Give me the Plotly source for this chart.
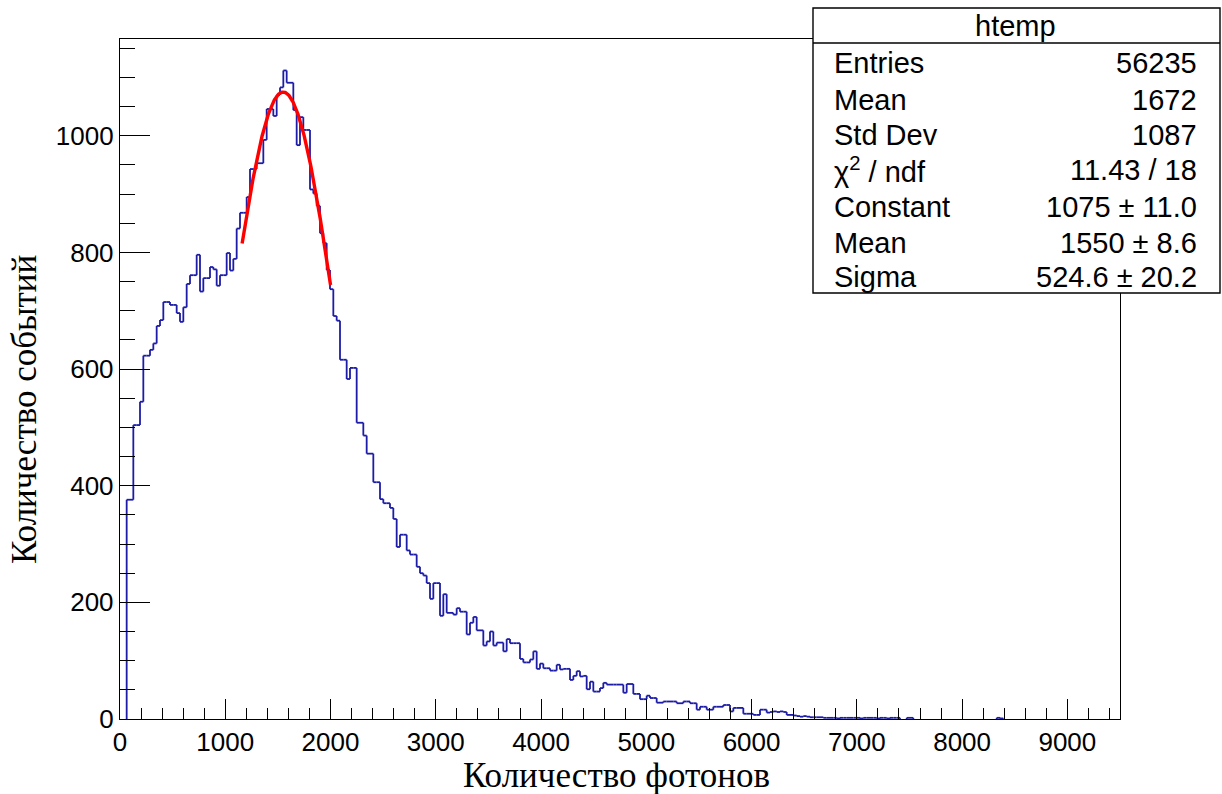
import numpy as np
import plotly.graph_objects as go

# ---------------- data ----------------
x_min, x_max = 0.0, 9500.0
n_bins = 300
counts = [
    0, 0, 376, 376, 504, 504, 544, 623, 623, 633,
    644, 674, 684, 715, 715, 710, 710, 696, 681, 706,
    746, 761, 761, 796, 733, 756, 756, 775, 771, 743,
    761, 761, 799, 769, 789, 841, 868, 868, 895, 943,
    943, 953, 953, 993, 1046, 1046, 1034, 1070, 1083, 1112,
    1091, 1091, 1044, 984, 1032, 1010, 1010, 908, 901, 880,
    833, 816, 770, 737, 691, 683, 616, 616, 583, 602,
    602, 508, 508, 486, 455, 455, 406, 406, 377, 370,
    370, 362, 343, 295, 316, 316, 289, 282, 282, 261,
    250, 246, 233, 206, 233, 233, 177, 214, 182, 182,
    179, 190, 184, 184, 145, 165, 175, 152, 152, 126,
    133, 150, 126, 131, 131, 116, 137, 130, 130, 130,
    103, 97, 97, 102, 116, 86, 95, 87, 87, 83,
    83, 93, 85, 86, 86, 67, 74, 82, 73, 74,
    51, 64, 47, 47, 53, 62, 59, 59, 59, 59,
    59, 45, 60, 60, 43, 43, 34, 34, 40, 36,
    36, 28, 28, 30, 30, 30, 30, 27, 27, 30,
    30, 27, 27, 16, 21, 21, 16, 16, 21, 21,
    21, 24, 24, 13, 19, 19, 19, 9, 9, 9,
    7, 7, 16, 16, 11, 12, 13, 12, 13, 12,
    7, 7, 6, 5, 4, 5, 4, 3, 3, 3,
    3, 2, 2, 2, 2, 1, 2, 2, 2, 2,
    2, 2, 1, 2, 2, 2, 2, 1, 2, 2,
    1, 2, 2, 2, 0, 0, 2, 2, 0, 0,
    0, 0, 0, 0, 0, 0, 0, 0, 0, 0,
    0, 0, 0, 0, 0, 0, 0, 0, 0, 0,
    0, 0, 0, 2, 1,
]
counts = counts + [0] * (n_bins - len(counts))

# Gaussian fit result (from the stats box)
fit_const, fit_mean, fit_sigma = 1075.0, 1550.0, 524.6
fit_range = (1160.0, 2000.0)

stats_title = "htemp"
stats_labels = ["Entries", "Mean", "Std Dev", "χ<sup>2</sup> / ndf",
                "Constant", "Mean", "Sigma"]
stats_values = ["56235", "1672", "1087", "11.43 / 18",
                "1075 ± 11.0", "1550 ± 8.6", "524.6 ± 20.2"]

x_title = "Количество фотонов"
y_title = "Количество событий"
y_max = 1166

# ---------------- figure ----------------
W, H = 1222, 794
ML, MR, MT, MB = 120, 102, 39, 75
PW, PH = W - ML - MR, H - MT - MB


def px(xpix):
    return (xpix - ML) / PW


def py(ypix):
    return (H - MB - ypix) / PH


edges = np.linspace(x_min, x_max, n_bins + 1)

# step outline: horizontal tops of non-empty bins, verticals between bins
hx, hy = [], []
prev = 0
for i, c in enumerate(counts):
    lo, hi = edges[i], edges[i + 1]
    if c != prev:
        hx += [lo, lo, None]
        hy += [prev, c, None]
    if c > 0:
        hx += [lo, hi, None]
        hy += [c, c, None]
    prev = c

fig = go.Figure()
fig.add_trace(go.Scatter(
    x=hx, y=hy, mode="lines", line=dict(color="#1c1ca6", width=1.8),
    connectgaps=False, hoverinfo="skip", showlegend=False))

fx = np.linspace(fit_range[0], fit_range[1], 200)
fy = fit_const * np.exp(-0.5 * ((fx - fit_mean) / fit_sigma) ** 2)
fig.add_trace(go.Scatter(
    x=fx, y=fy, mode="lines", line=dict(color="#ff0000", width=3.4),
    hoverinfo="skip", showlegend=False))

tickfont = dict(family="Liberation Sans, Arial, sans-serif", size=26, color="black")
fig.update_xaxes(
    range=[x_min, x_max], showgrid=False, zeroline=False,
    showline=True, linecolor="black", linewidth=1.4, mirror=True,
    ticks="inside", ticklen=20, tickwidth=1.4, tickcolor="black",
    tick0=0, dtick=1000, tickfont=tickfont,
    minor=dict(ticks="inside", ticklen=11, tickwidth=1.4, tickcolor="black",
               dtick=200, tick0=0, showgrid=False),
)
fig.update_yaxes(
    range=[0, y_max], showgrid=False, zeroline=False,
    showline=True, linecolor="black", linewidth=1.4, mirror=True,
    ticks="inside", ticklen=30, tickwidth=1.4, tickcolor="black",
    tick0=0, dtick=200, tickfont=tickfont,
    minor=dict(ticks="inside", ticklen=15, tickwidth=1.4, tickcolor="black",
               dtick=50, tick0=0, showgrid=False),
)

serif = dict(family="Liberation Serif, Times New Roman, serif", size=35, color="black")
annotations = [
    dict(text=x_title, x=px(616), y=py(775), xref="paper", yref="paper",
         showarrow=False, font=serif, xanchor="center", yanchor="middle"),
    dict(text=y_title, x=px(24), y=py(410), xref="paper", yref="paper",
         showarrow=False, font=serif, textangle=-90, xanchor="center", yanchor="middle"),
]

# stats box
bx0, bx1, by0, by1, byh = 813, 1220, 8, 293, 43
shapes = [
    dict(type="rect", xref="paper", yref="paper", x0=px(bx0), x1=px(bx1),
         y0=py(by1), y1=py(by0), fillcolor="white",
         line=dict(color="black", width=1.4), layer="above"),
    dict(type="line", xref="paper", yref="paper", x0=px(bx0), x1=px(bx1),
         y0=py(byh), y1=py(byh), line=dict(color="black", width=1.4), layer="above"),
]
sfont = dict(family="Liberation Sans, Arial, sans-serif", size=29, color="black")
annotations.append(dict(text=stats_title, x=px(1015), y=py(26), xref="paper", yref="paper",
                        showarrow=False, font=sfont, xanchor="center", yanchor="middle"))
row_y = [63, 100, 135, 170, 207, 243, 277]
for lab, val, ry in zip(stats_labels, stats_values, row_y):
    annotations.append(dict(text=lab, x=px(832), y=py(ry), xref="paper", yref="paper",
                            showarrow=False, font=sfont, xanchor="left", yanchor="middle"))
    annotations.append(dict(text=val, x=px(1199), y=py(ry), xref="paper", yref="paper",
                            showarrow=False, font=sfont, xanchor="right", yanchor="middle"))

fig.update_layout(
    width=W, height=H, autosize=False,
    margin=dict(l=ML, r=MR, t=MT, b=MB, pad=0),
    paper_bgcolor="white", plot_bgcolor="white",
    shapes=shapes, annotations=annotations, showlegend=False,
)

fig.write_html("out.html", config={"displayModeBar": False})
